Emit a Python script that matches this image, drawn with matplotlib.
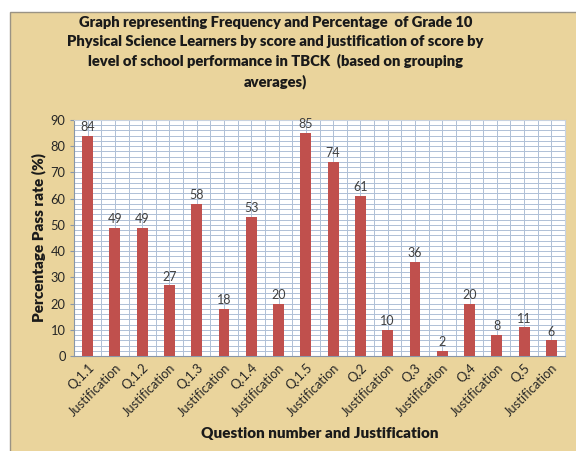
import matplotlib
matplotlib.use("Agg")
import matplotlib.pyplot as plt
from matplotlib.patches import Rectangle
from matplotlib.ticker import MultipleLocator

categories = ["Q.1.1", "Justification", "Q.1.2", "Justification", "Q.1.3", "Justification",
              "Q.1.4", "Justification", "Q.1.5", "Justification", "Q.2", "Justification",
              "Q.3", "Justification", "Q.4", "Justification", "Q.5", "Justification"]
values = [84, 49, 49, 27, 58, 18, 53, 20, 85, 74, 61, 10, 36, 2, 20, 8, 11, 6]
title = ("Graph representing Frequency and Percentage  of Grade 10\n"
         "Physical Science Learners by score and justification of score by\n"
         "level of school performance in TBCK  (based on grouping\n"
         "averages)")

plt.rcParams['font.family'] = ['Lato', 'DejaVu Sans']

W, H = 576, 451
fig = plt.figure(figsize=(W / 100, H / 100), dpi=100, facecolor="white")

# parchment frame (background axes)
bax = fig.add_axes([0, 0, 1, 1], zorder=-10)
bax.set_xlim(0, W)
bax.set_ylim(H, 0)
bax.axis("off")
bax.add_patch(Rectangle((10, 12), W, H, facecolor="#EAD49C", edgecolor="#9A9384",
                        linewidth=1.0))

fig.text(0.478, 1 - 16 / H, title, ha="center", va="top", fontsize=10.6,
         fontweight="heavy", color="#1a1a1a", linespacing=1.5)

ax = fig.add_axes([74 / W, 1 - 356 / H, (565 - 74) / W, (356 - 120) / H])
ax.set_facecolor("white")
x = list(range(len(categories)))
ax.bar(x, values, width=0.4, color="#C0504D", zorder=3)
for xi, v in zip(x, values):
    ax.text(xi, v + 1.0, str(v), ha="center", va="bottom", fontsize=9, color="#404040", zorder=4)

ax.set_xlim(-0.5, len(categories) - 0.5)
ax.set_ylim(0, 90)
ax.yaxis.set_major_locator(MultipleLocator(10))
ax.yaxis.set_minor_locator(MultipleLocator(2))
ax.xaxis.set_minor_locator(MultipleLocator(0.5))
ax.set_xticks(x)
ax.set_xticklabels(categories, rotation=45, ha="right", rotation_mode="anchor",
                   fontsize=9.3, color="#262626")
ax.tick_params(axis="x", which="both", length=0, pad=4)
ax.tick_params(axis="y", which="major", labelsize=9.3, labelcolor="#262626", length=3,
               color="#8896A8", pad=3)
ax.tick_params(axis="y", which="minor", length=0)
ax.grid(True, which="both", axis="both", color="#AFC0D6", linewidth=0.7, zorder=0)
ax.set_axisbelow(True)
for s in ["top", "right"]:
    ax.spines[s].set_color("#C8D2E0")
ax.spines["left"].set_color("#8896A8")
ax.spines["bottom"].set_color("#8896A8")

ax.set_ylabel("Percentage Pass rate (%)", fontsize=11, fontweight="heavy", color="#1a1a1a", labelpad=3)
ax.set_xlabel("Question number and Justification", fontsize=11, fontweight="heavy",
              color="#1a1a1a", labelpad=6)

fig.savefig("out.png", dpi=100, facecolor="white")
